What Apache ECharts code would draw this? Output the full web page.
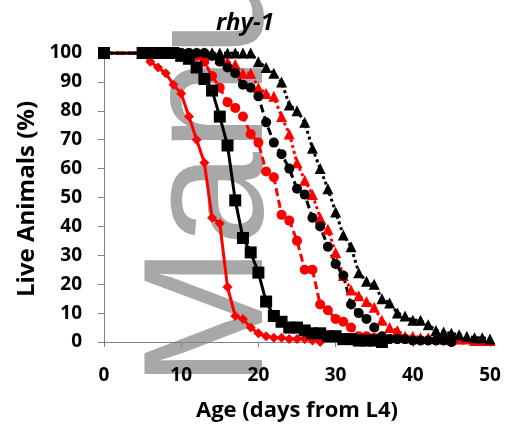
<!DOCTYPE html>
<html>
<head>
<meta charset="utf-8">
<title>rhy-1</title>
<script src="https://cdn.jsdelivr.net/npm/echarts@6/dist/echarts.min.js"></script>
<style>
  body { margin: 0; background: #fff; }
  #chart { width: 506px; height: 432px; }
</style>
</head>
<body>
<div id="chart"></div>
<script>
// days: 0, then 5..50
var days = [0, 5, 6, 7, 8, 9, 10, 11, 12, 13, 14, 15, 16, 17, 18, 19, 20, 21, 22, 23, 24, 25, 26, 27, 28, 29,
            30, 31, 32, 33, 34, 35, 36, 37, 38, 39, 40, 41, 42, 43, 44, 45, 46, 47, 48, 49, 50];

var blackSquares = [100, 100, 100, 100, 100, 100, 99, 98, 95, 91, 87, 78, 68, 49, 36, 31, 24, 14, 9, 7, 5, 5, 4, 3, 3, 2,
                    2, 1, 1, 0.5, 0.5, 0.5, 0];
var redDiamonds = [100, 100, 97, 95, 93, 89, 86, 78, 70, 62, 43, 41, 19, 9, 8, 5, 3, 2, 1.5, 1.5, 1, 1, 1, 0.5, 0];
var redCircles = [100, 100, 100, 100, 100, 100, 100, 100, 99, 97, 92, 88, 83, 81, 78, 72, 69, 59, 57, 44, 42, 35, 25, 25, 13, 11,
                  8, 7, 5, 2, 2, 1.5, 1, 1, 1, 1, 0.5, 0.5, 0.5, 0.5, 0.5, 0];
var blackCircles = [100, 100, 100, 100, 100, 100, 100, 100, 100, 100, 99, 97, 95, 93, 89, 88, 85, 76, 69, 65, 60, 53, 51, 43, 40, 33,
                    27, 23, 13, 10, 8, 5, 2, 1, 1, 1, 0.5, 0.5, 0.5, 0.5, 0.5, 0];
var redTriangles = [100, 100, 100, 100, 100, 100, 100, 100, 100, 100, 100, 98, 97, 96, 93, 93, 88, 86, 85, 78, 72, 62, 56, 51, 43, 39,
                    31, 23, 18, 16, 14, 12, 7.5, 5, 4, 2, 2, 1.5, 1.5, 1.5, 1, 1, 1, 1, 0.5, 0.5, 0.5];
var blackTriangles = [100, 100, 100, 100, 100, 100, 100, 100, 100, 100, 100, 100, 100, 100, 100, 100, 97, 95, 93, 90, 82, 80, 76, 67, 60, 53,
                      45, 37, 33, 24, 21, 20, 15, 13.5, 10, 9, 7.5, 7.5, 6, 4, 3.5, 3, 2.5, 2, 1.5, 1.5, 1];

var xTicks = [0, 10, 20, 30, 40, 50];
var yTicks = [0, 10, 20, 30, 40, 50, 60, 70, 80, 90, 100];

function pairs(vals) {
    var out = [];
    for (var i = 0; i < vals.length; i++) out.push([days[i], vals[i]]);
    return out;
}

function makeSeries(name, vals, color, symbol, size, lineType, width) {
    return {
        name: name,
        type: 'line',
        data: pairs(vals),
        symbol: symbol,
        symbolSize: size,
        showAllSymbol: true,
        lineStyle: { color: color, width: width, type: lineType },
        itemStyle: { color: color, borderWidth: 0 },
        animation: false
    };
}

var chart = echarts.init(document.getElementById('chart'));
var labelFont = '"Open Sans", Lato, sans-serif';

var option = {
    backgroundColor: '#fff',
    animation: false,
    grid: { left: 104, right: 16, top: 53, bottom: 90 },
    xAxis: {
        type: 'value', min: 0, max: 50, interval: 10,
        axisLine: { lineStyle: { color: '#808080', width: 1 } },
        axisTick: { show: true, length: 5, lineStyle: { color: '#808080' } },
        splitLine: { show: false },
        axisLabel: { color: '#000', fontSize: 19, fontWeight: 'bold', fontFamily: labelFont, margin: 24,
                     formatter: function (v) { return xTicks.indexOf(v) >= 0 ? String(v) : ''; } }
    },
    yAxis: {
        type: 'value', min: 0, max: 100, interval: 10,
        axisLine: { show: true, lineStyle: { color: '#808080', width: 1 } },
        axisTick: { show: true, length: 6, lineStyle: { color: '#808080' } },
        splitLine: { show: false },
        axisLabel: { color: '#000', fontSize: 19, fontWeight: 'bold', fontFamily: labelFont, margin: 22,
                     formatter: function (v) { return yTicks.indexOf(v) >= 0 ? String(v) : ''; } }
    },
    graphic: [
        {
            type: 'text', x: 300, y: 388, rotation: Math.PI / 2, z: -10,
            style: { text: 'Manu', fill: '#a8a8a8', fontSize: 170, fontFamily: '"Liberation Sans", Arial, sans-serif',
                     textAlign: 'left', textVerticalAlign: 'bottom' }
        },
        {
            type: 'text', x: 245, y: 23,
            style: { text: 'rhy-1', fill: '#000', fontSize: 24, fontWeight: 'bold', fontStyle: 'italic',
                     fontFamily: labelFont, textAlign: 'center', textVerticalAlign: 'middle' }
        },
        {
            type: 'text', x: 27, y: 199, rotation: Math.PI / 2,
            style: { text: 'Live Animals (%)', fill: '#000', fontSize: 24, fontWeight: 'bold',
                     fontFamily: labelFont, textAlign: 'center', textVerticalAlign: 'middle' }
        },
        {
            type: 'text', x: 297, y: 411,
            style: { text: 'Age (days from L4)', fill: '#000', fontSize: 22, fontWeight: 'bold',
                     fontFamily: labelFont, textAlign: 'center', textVerticalAlign: 'middle' }
        }
    ],
    series: [
        makeSeries('red triangles', redTriangles, '#ff0000', 'triangle', 11, 'dotted', 3),
        makeSeries('black triangles', blackTriangles, '#000', 'triangle', 11, 'dotted', 3),
        makeSeries('red circles', redCircles, '#ff0000', 'circle', 10, [8, 4], 3),
        makeSeries('black circles', blackCircles, '#000', 'circle', 10, [8, 4], 3),
        makeSeries('red diamonds', redDiamonds, '#ff0000', 'diamond', 10, 'solid', 3),
        makeSeries('black squares', blackSquares, '#000', 'rect', 12, 'solid', 3)
    ]
};
chart.setOption(option);
</script>
</body>
</html>
